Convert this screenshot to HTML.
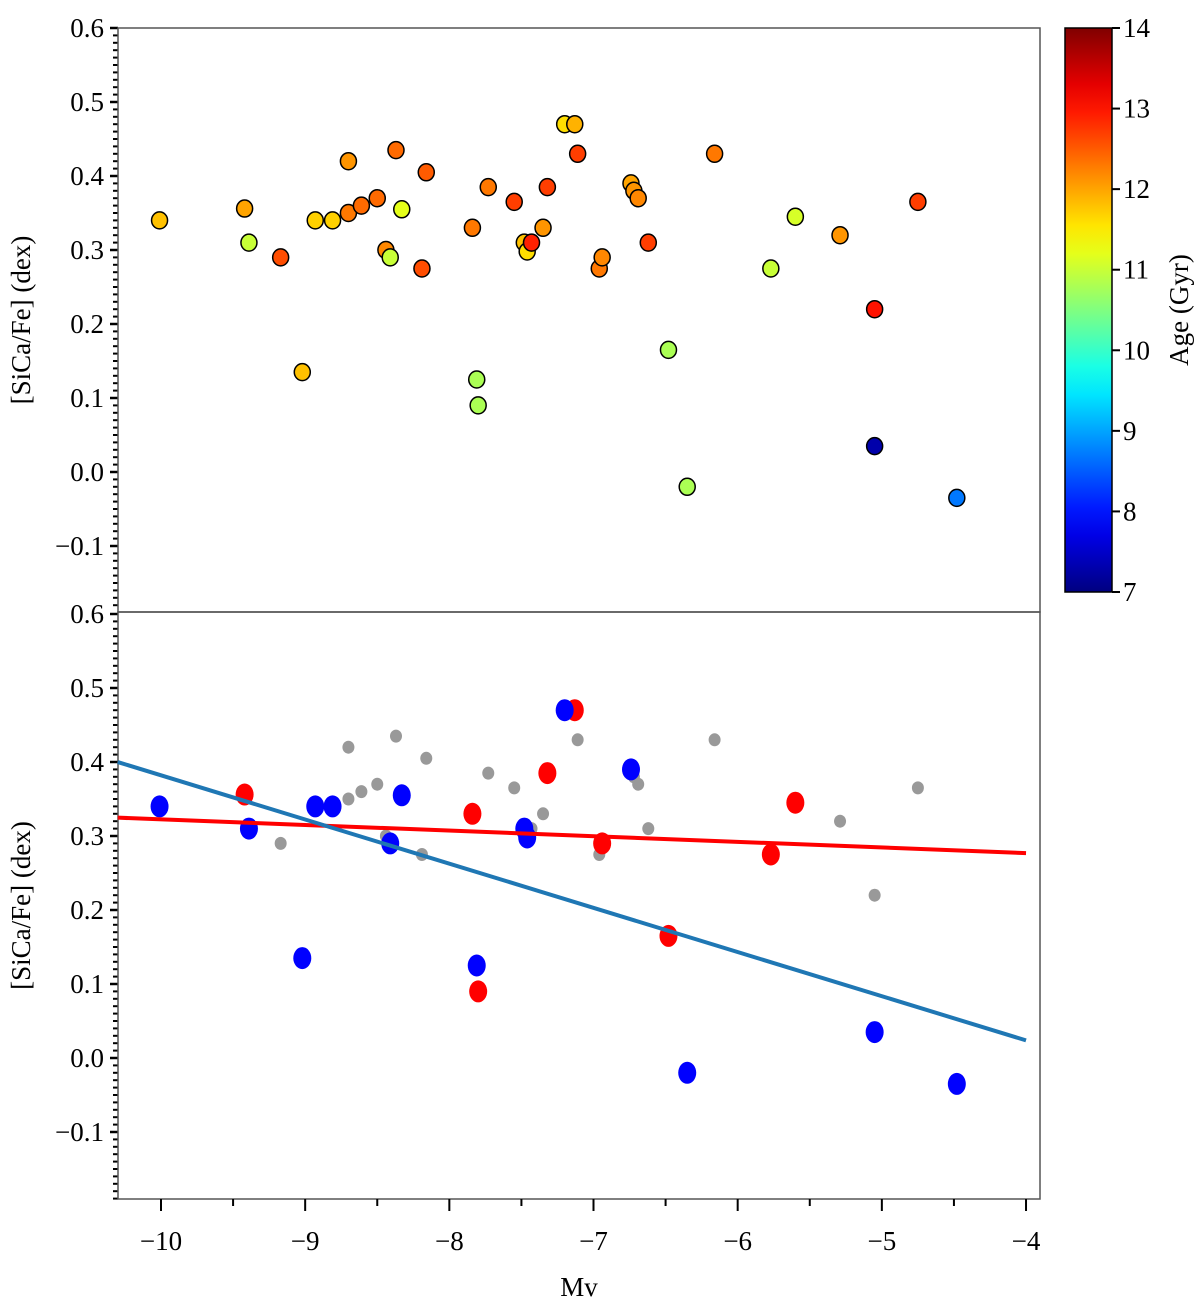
<!DOCTYPE html>
<html><head><meta charset="utf-8">
<style>
body{margin:0;background:#fff;}
svg text{font-family:"Liberation Serif",serif;fill:#000;}
</style></head>
<body>
<svg id="c" width="1200" height="1307" viewBox="0 0 1200 1307" xmlns="http://www.w3.org/2000/svg"></svg>
<script>
const mv=[-10.01,-9.42,-9.39,-9.17,-9.02,-8.93,-8.81,-8.70,-8.70,-8.61,-8.50,-8.44,-8.41,-8.37,-8.33,-8.19,-8.16,-7.84,-7.81,-7.80,-7.73,-7.55,-7.48,-7.46,-7.43,-7.35,-7.32,-7.20,-7.13,-7.11,-6.96,-6.94,-6.74,-6.72,-6.69,-6.62,-6.48,-6.35,-6.16,-5.77,-5.60,-5.29,-5.05,-5.05,-4.75,-4.48];
const sica=[0.34,0.356,0.31,0.29,0.135,0.34,0.34,0.42,0.35,0.36,0.37,0.30,0.29,0.435,0.355,0.275,0.405,0.33,0.125,0.09,0.385,0.365,0.31,0.298,0.31,0.33,0.385,0.47,0.47,0.43,0.275,0.29,0.39,0.38,0.37,0.31,0.165,-0.02,0.43,0.275,0.345,0.32,0.22,0.035,0.365,-0.035];
const age=[11.8,12.0,11.0,12.6,11.8,11.7,11.7,12.1,12.3,12.4,12.4,12.2,11.0,12.4,11.2,12.6,12.5,12.3,10.8,10.8,12.3,12.7,11.8,11.6,12.9,12.1,12.7,11.6,11.9,12.7,12.3,12.2,12.0,12.1,12.2,12.7,10.8,10.8,12.3,11.0,11.1,12.1,13.0,7.3,12.7,8.7];
const group=["b","r","b","g","b","b","b","g","g","g","g","g","b","g","b","g","g","r","b","r","g","g","b","b","g","g","r","b","r","g","g","r","b","g","g","g","r","b","g","r","r","g","g","b","g","b"];
const fitBlue=[-0.215,-0.0597]; // intercept, slope
const fitRed=[0.2465,-0.0076];
const xTicks=[-10,-9,-8,-7,-6,-5,-4];
const yTicks=[0.6,0.5,0.4,0.3,0.2,0.1,0.0,-0.1];
const cbTicks=[7,8,9,10,11,12,13,14];

const svg=document.getElementById('c');
const NS='http://www.w3.org/2000/svg';
function mk(t,a,p){const e=document.createElementNS(NS,t);for(const k in a)e.setAttribute(k,a[k]);(p||svg).appendChild(e);return e;}
const X=v=>161+(v+10)*144.17;
const panels=[{top:28,bot:612,y0:472},{top:612,bot:1199,y0:1058}];
const L=118,R=1040;
function jet(v){v=Math.max(0,Math.min(1,v));
 const r=Math.min(1,Math.max(0,1.5-Math.abs(4*v-3))),g=Math.min(1,Math.max(0,1.5-Math.abs(4*v-2))),b=Math.min(1,Math.max(0,1.5-Math.abs(4*v-1)));
 return `rgb(${Math.round(r*255)},${Math.round(g*255)},${Math.round(b*255)})`;}
const fmt=v=>(v<0?'\u2212':'')+Math.abs(v).toFixed(1);

panels.forEach((p,pi)=>{
 const Y=v=>p.y0-v*740;
 const g=mk('g',{});
 
 
 for(let i=-19;i<=60;i++){const y=Y(i/100);if(y<p.top-0.5||y>p.bot+0.5)continue;
  const major=i%10===0;
  mk('line',{x1:major?L-8:L-5,x2:L,y1:y,y2:y,stroke:'#000','stroke-width':major?2.5:2},g);}
 yTicks.forEach(t=>{const y=Y(t);if(y<p.top-1||y>p.bot)return;
  const tx=mk('text',{x:L-14,y:y+9,'text-anchor':'end','font-size':27},g);tx.textContent=fmt(t);
  });
 const yl=mk('text',{x:0,y:0,'font-size':27,'text-anchor':'middle',transform:`translate(30,${(p.top+p.bot)/2}) rotate(-90)`},g);
 yl.textContent='[SiCa/Fe] (dex)';
 
 mk('rect',{x:L,y:p.top,width:R-L,height:p.bot-p.top,fill:'none',stroke:'#555','stroke-width':1.5},g);
 if(pi===0){
  mv.forEach((m,i)=>{const c=mk('ellipse',{cx:X(m),cy:Y(sica[i]),rx:8,ry:8.5,fill:jet((age[i]-7)/7),stroke:'#000','stroke-width':1.5},g);
   });
 } else {
  [['g','#999',6,6.5],['r','#ff0000',9,11],['b','#0000ff',9,11]].forEach(([k,col,rx,ry])=>{
   mv.forEach((m,i)=>{if(group[i]!==k)return;
    const c=mk('ellipse',{cx:X(m),cy:Y(sica[i]),rx:rx,ry:ry,fill:col},g);
    });});
  [[fitRed,'#ff0000','red-fit-line'],[fitBlue,'#1f77b4','blue-fit-line']].forEach(([f,col,n])=>{
   const x1=-10.3,x2=-4;
   const ln=mk('line',{x1:X(x1),x2:X(x2),y1:Y(f[0]+f[1]*x1),y2:Y(f[0]+f[1]*x2),stroke:col,'stroke-width':4},g);
   });
  for(let v=-10.5;v<=-4;v+=0.5){const x=X(v);if(x<L)continue;const maj=Number.isInteger(v);
   mk('line',{x1:x,x2:x,y1:p.bot,y2:p.bot+(maj?12:7),stroke:'#000','stroke-width':2},g);}
  xTicks.forEach(t=>{const tx=mk('text',{x:X(t),y:1250,'text-anchor':'middle','font-size':27},g);tx.textContent='\u2212'+Math.abs(t);
   });
  const xl=mk('text',{x:579,y:1296,'text-anchor':'middle','font-size':27},g);xl.textContent='Mv';
  
 }
});
const cb=mk('g',{});


const defs=mk('defs',{},cb);
const lg=mk('linearGradient',{id:'jg',x1:0,y1:1,x2:0,y2:0},defs);
for(let i=0;i<=20;i++)mk('stop',{offset:i/20,'stop-color':jet(i/20)},lg);
const cT=28,cB=592,cBy=v=>cB-(v-7)*(cB-cT)/7;
mk('rect',{x:1065,y:cT,width:47,height:cB-cT,fill:'url(#jg)',stroke:'#000','stroke-width':1.5},cb);
cbTicks.forEach(t=>{const y=cBy(t);mk('line',{x1:1112,x2:1120,y1:y,y2:y,stroke:'#000','stroke-width':2},cb);
 const tx=mk('text',{x:1123,y:y+9,'font-size':27},cb);tx.textContent=t;
 });
const al=mk('text',{x:0,y:0,'font-size':27,'text-anchor':'middle',transform:`translate(1188,310) rotate(-90)`},cb);
al.textContent='Age (Gyr)';

</script>
</body></html>
